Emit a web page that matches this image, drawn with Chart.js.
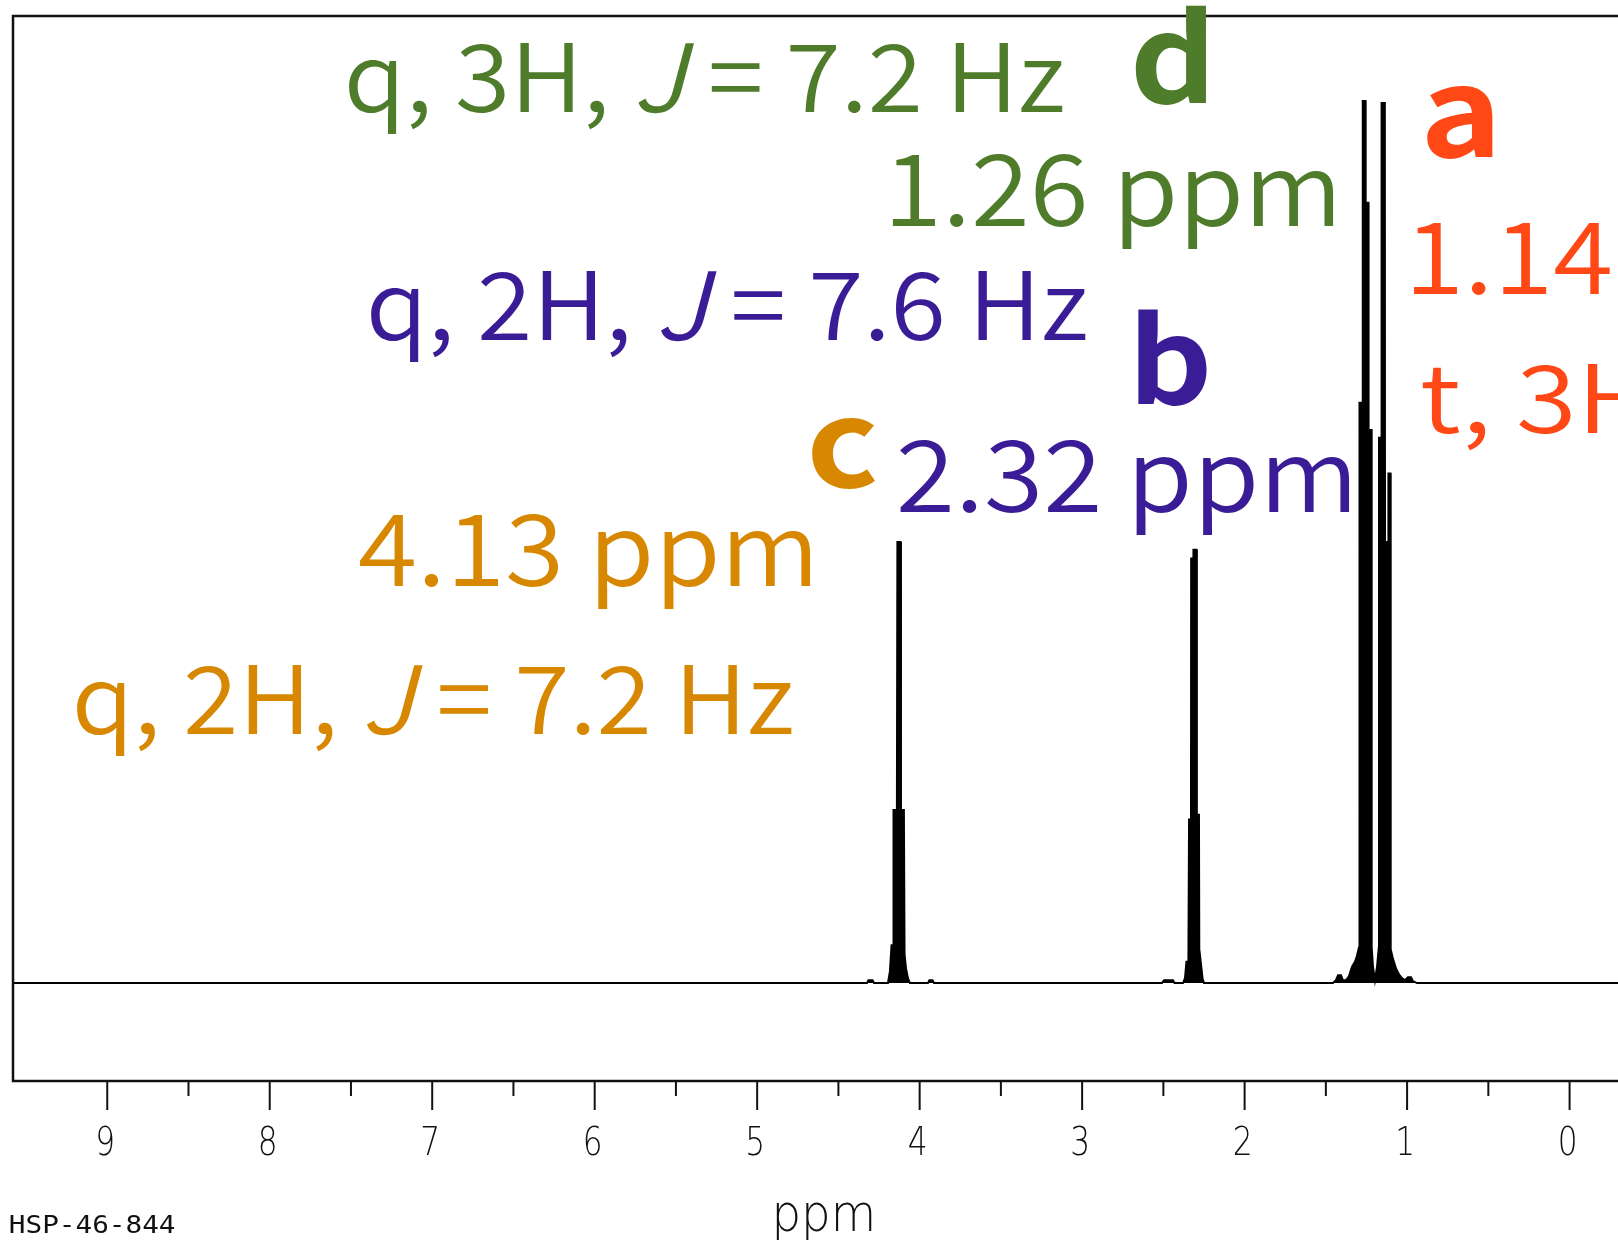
<!DOCTYPE html>
<html>
<head>
<meta charset="utf-8">
<title>HSP-46-844 1H NMR</title>
<script src="https://cdn.jsdelivr.net/npm/chart.js@4.4.1/dist/chart.umd.min.js"></script>
<style>
  html, body { margin: 0; padding: 0; background: #fff; overflow: hidden; }
  canvas { display: block; }
</style>
</head>
<body>
<canvas id="nmrChart" width="1618" height="1240"></canvas>
<script>
// axis ranges (ppm runs right to left)
const ppmRange = [9.58, -0.298];
const intensityRange = [-10.13, 100];

// spectrum trace: shift (ppm) and relative intensity, baseline = 0
// c: OCH2 quartet around 4.13
const ppmC = [4.324, 4.315, 4.290, 4.281, 4.195, 4.183, 4.173, 4.164, 4.161, 4.140, 4.137, 4.118, 4.115, 4.097, 4.093, 4.084, 4.072, 4.060, 3.949, 3.940, 3.921, 3.912];
const intC = [0, 0.3, 0.3, 0, 0, 1.2, 3.9, 3.9, 17.9, 17.9, 45.6, 45.6, 17.9, 17.9, 3.0, 1.5, 0.5, 0, 0, 0.3, 0.3, 0];
// b: CH2CO quartet around 2.32
const ppmB = [2.509, 2.496, 2.441, 2.432, 2.379, 2.367, 2.358, 2.346, 2.342, 2.330, 2.329, 2.317, 2.315, 2.296, 2.294, 2.281, 2.279, 2.269, 2.259, 2.250];
const intB = [0, 0.3, 0.3, 0, 0, 0.5, 2.2, 2.2, 16.9, 16.9, 43.9, 43.9, 44.8, 44.8, 17.4, 17.4, 3.5, 2.0, 0.5, 0];
// d + a: the two triplets at 1.26 and 1.14
const ppmAD = [1.456, 1.438, 1.425, 1.407, 1.395, 1.376, 1.358, 1.339, 1.321, 1.309, 1.296, 1.293, 1.275, 1.273, 1.256, 1.255, 1.238, 1.237, 1.219, 1.218, 1.210, 1.198, 1.185, 1.174, 1.173, 1.158, 1.157, 1.137, 1.136, 1.116, 1.115, 1.102, 1.101, 1.087, 1.068, 1.050, 1.032, 1.013, 0.995, 0.976, 0.964, 0.939];
const intAD = [0, 0.3, 0.8, 0.8, 0.3, 0.3, 0.7, 1.7, 2.2, 2.8, 3.7, 60.0, 60.0, 91.2, 91.2, 80.7, 80.7, 57.2, 57.2, 3.7, 1.7, 0.3, 1.7, 3.7, 56.4, 56.4, 91.0, 91.0, 45.6, 45.6, 52.7, 52.7, 3.5, 2.5, 1.5, 0.9, 0.5, 0.3, 0.6, 0.6, 0.2, 0];

// x axis ticks
const majorTicks = [9, 8, 7, 6, 5, 4, 3, 2, 1, 0];
const tickLabels = ['9', '8', '7', '6', '5', '4', '3', '2', '1', '0'];
const minorTicks = [8.5, 7.5, 6.5, 5.5, 4.5, 3.5, 2.5, 1.5, 0.5];
const axisTitle = 'ppm';
const sampleCode = 'HSP-46-844';

const trace = [{ x: ppmRange[0], y: 0 }];
[[ppmC, intC], [ppmB, intB], [ppmAD, intAD]].forEach(([p, v]) => {
    p.forEach((x, i) => trace.push({ x: x, y: v[i] }));
});
trace.push({ x: ppmRange[1], y: 0 });

const GREEN = '#4e7c2b', BLUE = '#3a1c96', ORANGE = '#d78700', RED = '#ff4816';
const LABEL_FONT = '"Noto Sans CJK JP", "Open Sans", sans-serif';

// peak notes: text pieces ([text, italic]) fitted into a box on the canvas
const notes = [
    { parts: [['q, 3H, '], ['J', true], [' = 7.2 Hz']], x0: 349, x1: 1063, y: 112, size: 94, color: GREEN },
    { parts: [['d']], x0: 1135, x1: 1207, y: 103, size: 122, bold: true, color: GREEN },
    { parts: [['1.26 ppm']], x0: 893, x1: 1334, y: 226, size: 100, color: GREEN },
    { parts: [['q, 2H, '], ['J', true], [' = 7.6 Hz']], x0: 371, x1: 1086, y: 340, size: 94, color: BLUE },
    { parts: [['b']], x0: 1138, x1: 1207, y: 404, size: 118, bold: true, color: BLUE },
    { parts: [['c']], x0: 812, x1: 875, y: 487, size: 120, bold: true, color: ORANGE },
    { parts: [['2.32 ppm']], x0: 900, x1: 1350, y: 512, size: 100, color: BLUE },
    { parts: [['4.13 ppm']], x0: 359, x1: 811, y: 586, size: 100, color: ORANGE },
    { parts: [['q, 2H, '], ['J', true], [' = 7.2 Hz']], x0: 77, x1: 792, y: 734, size: 94, color: ORANGE },
    { parts: [['a']], x0: 1427, x1: 1493, y: 157, size: 124, bold: true, color: RED },
    { parts: [['1.14']], x0: 1414, x1: 1610, y: 294, size: 100, color: RED },
    { parts: [['t, 3H']], x0: 1422, x1: 1646, y: 433, size: 94, color: RED }
];

function fontFor(n, italic) {
    const family = n.family || LABEL_FONT;
    const weight = n.weight || (n.bold ? '700' : '350');
    return (italic ? 'italic ' : '') + weight + ' ' + n.size + 'px ' + family;
}

// draw text so that its ink spans x0..x1
function fitText(ctx, n) {
    let total = 0, inkStart = 0, inkEnd = 0;
    const widths = [];
    n.parts.forEach((p, i) => {
        ctx.font = fontFor(n, p[1]);
        const m = ctx.measureText(p[0]);
        if (i === 0) inkStart = -m.actualBoundingBoxLeft;
        if (i === n.parts.length - 1) inkEnd = total + m.actualBoundingBoxRight;
        widths.push(m.width);
        total += m.width;
    });
    const sx = (n.x1 - n.x0) / (inkEnd - inkStart);
    ctx.save();
    ctx.translate(n.x0 - inkStart * sx, n.y);
    ctx.scale(sx, 1);
    ctx.fillStyle = n.color;
    ctx.textBaseline = 'alphabetic';
    ctx.textAlign = 'left';
    let cx = 0;
    n.parts.forEach((p, i) => {
        ctx.font = fontFor(n, p[1]);
        ctx.fillText(p[0], cx, 0);
        cx += widths[i];
    });
    ctx.restore();
}

const framePlugin = {
    id: 'frame',
    beforeDraw(chart) {
        const ctx = chart.ctx;
        ctx.save();
        ctx.fillStyle = '#fff';
        ctx.fillRect(0, 0, chart.width, chart.height);
        ctx.restore();
    },
    afterDatasetsDraw(chart) {
        const ctx = chart.ctx;
        const a = chart.chartArea;
        const xs = chart.scales.x;
        ctx.save();
        ctx.strokeStyle = '#111';
        ctx.lineWidth = 2.5;
        ctx.beginPath();
        ctx.moveTo(a.right + 5, a.top);
        ctx.lineTo(a.left, a.top);
        ctx.lineTo(a.left, a.bottom);
        ctx.lineTo(a.right + 5, a.bottom);
        ctx.stroke();

        ctx.lineWidth = 2;
        majorTicks.forEach(v => {
            const px = xs.getPixelForValue(v);
            ctx.beginPath();
            ctx.moveTo(px, a.bottom);
            ctx.lineTo(px, a.bottom + 29);
            ctx.stroke();
        });
        minorTicks.forEach(v => {
            const px = xs.getPixelForValue(v);
            ctx.beginPath();
            ctx.moveTo(px, a.bottom);
            ctx.lineTo(px, a.bottom + 15);
            ctx.stroke();
        });

        ctx.fillStyle = '#111';
        ctx.textAlign = 'center';
        ctx.textBaseline = 'alphabetic';
        ctx.font = '200 39px "DejaVu Sans", sans-serif';
        majorTicks.forEach((v, i) => {
            const px = xs.getPixelForValue(v);
            ctx.save();
            ctx.translate(px - 2, a.bottom + 74);
            ctx.scale(0.8, 1);
            ctx.fillText(tickLabels[i], 0, 0);
            ctx.restore();
        });
        ctx.restore();

        fitText(ctx, { parts: [[axisTitle]], x0: 776, x1: 872, y: 1231, size: 52, weight: '200', family: '"DejaVu Sans", sans-serif', color: '#111' });
        fitText(ctx, { parts: [[sampleCode]], x0: 10, x1: 175, y: 1233, size: 24, weight: '400', family: '"DejaVu Sans Mono", monospace', color: '#111' });
    },
    afterDraw(chart) {
        notes.forEach(n => fitText(chart.ctx, n));
    }
};

new Chart(document.getElementById('nmrChart').getContext('2d'), {
    type: 'line',
    data: {
        datasets: [{
            data: trace,
            borderColor: '#000',
            backgroundColor: '#000',
            borderWidth: 2,
            pointRadius: 0,
            tension: 0,
            fill: 'origin'
        }]
    },
    options: {
        responsive: false,
        devicePixelRatio: 1,
        animation: false,
        parsing: false,
        layout: { padding: { left: 13, top: 16, right: 0, bottom: 159 } },
        plugins: { legend: { display: false }, tooltip: { enabled: false } },
        scales: {
            x: { type: 'linear', reverse: true, min: ppmRange[1], max: ppmRange[0], display: false },
            y: { type: 'linear', min: intensityRange[0], max: intensityRange[1], display: false }
        }
    },
    plugins: [framePlugin]
});
</script>
</body>
</html>
